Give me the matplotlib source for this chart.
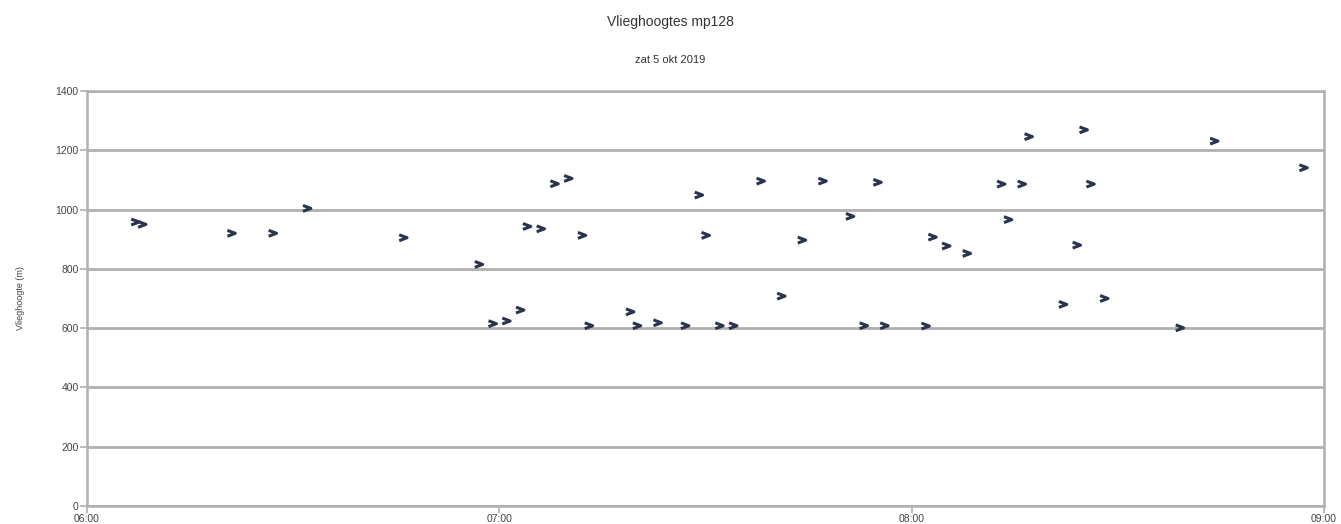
import numpy as np
import matplotlib
matplotlib.use("Agg")
import matplotlib.pyplot as plt
import matplotlib.dates as mdates
from matplotlib.path import Path
import datetime as dt

plt.rcParams["font.family"] = ["Liberation Sans", "DejaVu Sans"]

# tijdstippen (uu:mm) en vlieghoogte (m) op zat 5 okt 2019
tijden = ["06:07", "06:08", "06:21", "06:27", "06:32", "06:46", "06:57", "06:59",
          "07:01", "07:03", "07:04", "07:06", "07:08", "07:10", "07:12", "07:13",
          "07:19", "07:20", "07:23", "07:27", "07:29", "07:30", "07:32", "07:34",
          "07:38", "07:41", "07:44", "07:47", "07:51", "07:53", "07:55", "07:56",
          "08:02", "08:03", "08:05", "08:08", "08:13", "08:14", "08:16", "08:17",
          "08:22", "08:24", "08:25", "08:26", "08:28", "08:39", "08:44", "08:57"]
hoogte = [958, 950, 920, 920, 1004, 905, 815, 615,
          624, 661, 943, 935, 1087, 1105, 913, 608,
          655, 608, 618, 608, 1049, 913, 608, 608,
          1096, 708, 897, 1096, 977, 608, 1092, 608,
          607, 907, 877, 852, 1086, 966, 1086, 1246,
          680, 880, 1269, 1086, 700, 601, 1231, 1141]

dag = dt.date(2019, 10, 5)
x = [dt.datetime.combine(dag, dt.datetime.strptime(t, "%H:%M").time()) for t in tijden]

# ">" vormige marker (alleen lijn)
chevron = Path([(-0.8, 0.6), (0.8, 0.0), (-0.8, -0.6)],
               [Path.MOVETO, Path.LINETO, Path.LINETO])

fig = plt.figure(figsize=(13.41, 5.24), dpi=100)
ax = fig.add_axes([0.0649, 0.0344, 0.9224, 0.7919])

grijs = "#b0b0b0"
ax.scatter(x, hoogte, marker=chevron, s=32, facecolors="none", edgecolors="#2b344d",
           linewidths=2.2, zorder=3)

ax.set_ylim(0, 1400)
ax.set_yticks(np.arange(0, 1401, 200))
ax.set_xlim(dt.datetime.combine(dag, dt.time(6, 0)), dt.datetime.combine(dag, dt.time(9, 0)))
ax.xaxis.set_major_locator(mdates.HourLocator())
ax.xaxis.set_major_formatter(mdates.DateFormatter("%H:%M"))

ax.grid(axis="y", color=grijs, linewidth=2)
for s in ax.spines.values():
    s.set_color(grijs)
    s.set_linewidth(1.8)
ax.tick_params(colors=grijs, labelcolor="#444444", labelsize=7.5, length=5, width=1.2, pad=1)

ax.set_ylabel("Vlieghoogte (m)", fontsize=6.5, color="#444444", labelpad=22)

fig.text(0.5, 0.958, "Vlieghoogtes mp128", ha="center", va="center", fontsize=10, color="#333333")
fig.text(0.5, 0.885, "zat 5 okt 2019", ha="center", va="center", fontsize=8, color="#333333")

fig.savefig("out.png", dpi=100)
